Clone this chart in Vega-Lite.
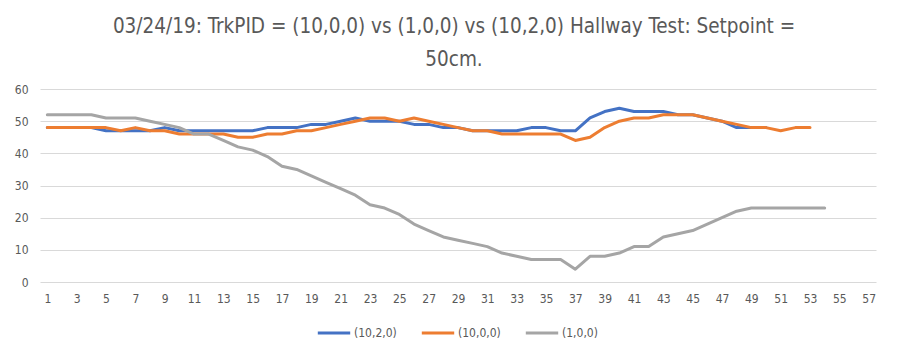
{
  "$schema": "https://vega.github.io/schema/vega-lite/v6.json",
  "autosize": "none",
  "width": 836,
  "height": 193,
  "padding": {"left": 40, "top": 89, "right": 32, "bottom": 78},
  "background": "white",
  "title": {
    "text": ["03/24/19:  TrkPID = (10,0,0) vs (1,0,0) vs (10,2,0) Hallway Test: Setpoint =", "50cm."],
    "font": "DejaVu Sans Condensed, Open Sans",
    "fontSize": 20.5,
    "fontWeight": "normal",
    "color": "#595959",
    "anchor": "middle",
    "frame": "group",
    "dx": -4,
    "offset": 13,
    "lineHeight": 33
  },
  "data": {
    "values": [
      {"x":1,"s":"(10,2,0)","v":48},{"x":2,"s":"(10,2,0)","v":48},{"x":3,"s":"(10,2,0)","v":48},{"x":4,"s":"(10,2,0)","v":48},{"x":5,"s":"(10,2,0)","v":47},{"x":6,"s":"(10,2,0)","v":47},{"x":7,"s":"(10,2,0)","v":47},{"x":8,"s":"(10,2,0)","v":47},{"x":9,"s":"(10,2,0)","v":48},{"x":10,"s":"(10,2,0)","v":47},
      {"x":11,"s":"(10,2,0)","v":47},{"x":12,"s":"(10,2,0)","v":47},{"x":13,"s":"(10,2,0)","v":47},{"x":14,"s":"(10,2,0)","v":47},{"x":15,"s":"(10,2,0)","v":47},{"x":16,"s":"(10,2,0)","v":48},{"x":17,"s":"(10,2,0)","v":48},{"x":18,"s":"(10,2,0)","v":48},{"x":19,"s":"(10,2,0)","v":49},{"x":20,"s":"(10,2,0)","v":49},
      {"x":21,"s":"(10,2,0)","v":50},{"x":22,"s":"(10,2,0)","v":51},{"x":23,"s":"(10,2,0)","v":50},{"x":24,"s":"(10,2,0)","v":50},{"x":25,"s":"(10,2,0)","v":50},{"x":26,"s":"(10,2,0)","v":49},{"x":27,"s":"(10,2,0)","v":49},{"x":28,"s":"(10,2,0)","v":48},{"x":29,"s":"(10,2,0)","v":48},{"x":30,"s":"(10,2,0)","v":47},
      {"x":31,"s":"(10,2,0)","v":47},{"x":32,"s":"(10,2,0)","v":47},{"x":33,"s":"(10,2,0)","v":47},{"x":34,"s":"(10,2,0)","v":48},{"x":35,"s":"(10,2,0)","v":48},{"x":36,"s":"(10,2,0)","v":47},{"x":37,"s":"(10,2,0)","v":47},{"x":38,"s":"(10,2,0)","v":51},{"x":39,"s":"(10,2,0)","v":53},{"x":40,"s":"(10,2,0)","v":54},
      {"x":41,"s":"(10,2,0)","v":53},{"x":42,"s":"(10,2,0)","v":53},{"x":43,"s":"(10,2,0)","v":53},{"x":44,"s":"(10,2,0)","v":52},{"x":45,"s":"(10,2,0)","v":52},{"x":46,"s":"(10,2,0)","v":51},{"x":47,"s":"(10,2,0)","v":50},{"x":48,"s":"(10,2,0)","v":48},{"x":49,"s":"(10,2,0)","v":48},{"x":50,"s":"(10,2,0)","v":48},

      {"x":1,"s":"(10,0,0)","v":48},{"x":2,"s":"(10,0,0)","v":48},{"x":3,"s":"(10,0,0)","v":48},{"x":4,"s":"(10,0,0)","v":48},{"x":5,"s":"(10,0,0)","v":48},{"x":6,"s":"(10,0,0)","v":47},{"x":7,"s":"(10,0,0)","v":48},{"x":8,"s":"(10,0,0)","v":47},{"x":9,"s":"(10,0,0)","v":47},{"x":10,"s":"(10,0,0)","v":46},
      {"x":11,"s":"(10,0,0)","v":46},{"x":12,"s":"(10,0,0)","v":46},{"x":13,"s":"(10,0,0)","v":46},{"x":14,"s":"(10,0,0)","v":45},{"x":15,"s":"(10,0,0)","v":45},{"x":16,"s":"(10,0,0)","v":46},{"x":17,"s":"(10,0,0)","v":46},{"x":18,"s":"(10,0,0)","v":47},{"x":19,"s":"(10,0,0)","v":47},{"x":20,"s":"(10,0,0)","v":48},
      {"x":21,"s":"(10,0,0)","v":49},{"x":22,"s":"(10,0,0)","v":50},{"x":23,"s":"(10,0,0)","v":51},{"x":24,"s":"(10,0,0)","v":51},{"x":25,"s":"(10,0,0)","v":50},{"x":26,"s":"(10,0,0)","v":51},{"x":27,"s":"(10,0,0)","v":50},{"x":28,"s":"(10,0,0)","v":49},{"x":29,"s":"(10,0,0)","v":48},{"x":30,"s":"(10,0,0)","v":47},
      {"x":31,"s":"(10,0,0)","v":47},{"x":32,"s":"(10,0,0)","v":46},{"x":33,"s":"(10,0,0)","v":46},{"x":34,"s":"(10,0,0)","v":46},{"x":35,"s":"(10,0,0)","v":46},{"x":36,"s":"(10,0,0)","v":46},{"x":37,"s":"(10,0,0)","v":44},{"x":38,"s":"(10,0,0)","v":45},{"x":39,"s":"(10,0,0)","v":48},{"x":40,"s":"(10,0,0)","v":50},
      {"x":41,"s":"(10,0,0)","v":51},{"x":42,"s":"(10,0,0)","v":51},{"x":43,"s":"(10,0,0)","v":52},{"x":44,"s":"(10,0,0)","v":52},{"x":45,"s":"(10,0,0)","v":52},{"x":46,"s":"(10,0,0)","v":51},{"x":47,"s":"(10,0,0)","v":50},{"x":48,"s":"(10,0,0)","v":49},{"x":49,"s":"(10,0,0)","v":48},{"x":50,"s":"(10,0,0)","v":48},
      {"x":51,"s":"(10,0,0)","v":47},{"x":52,"s":"(10,0,0)","v":48},{"x":53,"s":"(10,0,0)","v":48},

      {"x":1,"s":"(1,0,0)","v":52},{"x":2,"s":"(1,0,0)","v":52},{"x":3,"s":"(1,0,0)","v":52},{"x":4,"s":"(1,0,0)","v":52},{"x":5,"s":"(1,0,0)","v":51},{"x":6,"s":"(1,0,0)","v":51},{"x":7,"s":"(1,0,0)","v":51},{"x":8,"s":"(1,0,0)","v":50},{"x":9,"s":"(1,0,0)","v":49},{"x":10,"s":"(1,0,0)","v":48},
      {"x":11,"s":"(1,0,0)","v":46},{"x":12,"s":"(1,0,0)","v":46},{"x":13,"s":"(1,0,0)","v":44},{"x":14,"s":"(1,0,0)","v":42},{"x":15,"s":"(1,0,0)","v":41},{"x":16,"s":"(1,0,0)","v":39},{"x":17,"s":"(1,0,0)","v":36},{"x":18,"s":"(1,0,0)","v":35},{"x":19,"s":"(1,0,0)","v":33},{"x":20,"s":"(1,0,0)","v":31},
      {"x":21,"s":"(1,0,0)","v":29},{"x":22,"s":"(1,0,0)","v":27},{"x":23,"s":"(1,0,0)","v":24},{"x":24,"s":"(1,0,0)","v":23},{"x":25,"s":"(1,0,0)","v":21},{"x":26,"s":"(1,0,0)","v":18},{"x":27,"s":"(1,0,0)","v":16},{"x":28,"s":"(1,0,0)","v":14},{"x":29,"s":"(1,0,0)","v":13},{"x":30,"s":"(1,0,0)","v":12},
      {"x":31,"s":"(1,0,0)","v":11},{"x":32,"s":"(1,0,0)","v":9},{"x":33,"s":"(1,0,0)","v":8},{"x":34,"s":"(1,0,0)","v":7},{"x":35,"s":"(1,0,0)","v":7},{"x":36,"s":"(1,0,0)","v":7},{"x":37,"s":"(1,0,0)","v":4},{"x":38,"s":"(1,0,0)","v":8},{"x":39,"s":"(1,0,0)","v":8},{"x":40,"s":"(1,0,0)","v":9},
      {"x":41,"s":"(1,0,0)","v":11},{"x":42,"s":"(1,0,0)","v":11},{"x":43,"s":"(1,0,0)","v":14},{"x":44,"s":"(1,0,0)","v":15},{"x":45,"s":"(1,0,0)","v":16},{"x":46,"s":"(1,0,0)","v":18},{"x":47,"s":"(1,0,0)","v":20},{"x":48,"s":"(1,0,0)","v":22},{"x":49,"s":"(1,0,0)","v":23},{"x":50,"s":"(1,0,0)","v":23},
      {"x":51,"s":"(1,0,0)","v":23},{"x":52,"s":"(1,0,0)","v":23},{"x":53,"s":"(1,0,0)","v":23},{"x":54,"s":"(1,0,0)","v":23}
    ]
  },
  "mark": {"type": "line", "strokeWidth": 3, "strokeJoin": "round", "strokeCap": "round"},
  "encoding": {
    "x": {
      "field": "x", "type": "quantitative",
      "scale": {"domain": [0.5, 57.5], "nice": false, "zero": false},
      "axis": {
        "title": null,
        "values": [1,3,5,7,9,11,13,15,17,19,21,23,25,27,29,31,33,35,37,39,41,43,45,47,49,51,53,55,57],
        "grid": false, "ticks": false, "domain": false,
        "labelFont": "DejaVu Sans Condensed, Open Sans",
        "labelFontSize": 12, "labelColor": "#595959", "labelPadding": 11, "labelFlush": false
      }
    },
    "y": {
      "field": "v", "type": "quantitative",
      "scale": {"domain": [0, 60], "nice": false},
      "axis": {
        "title": null, "values": [0,10,20,30,40,50,60],
        "grid": true, "gridColor": "#D9D9D9", "gridWidth": 1,
        "ticks": false, "domain": false,
        "labelFont": "DejaVu Sans Condensed, Open Sans",
        "labelFontSize": 12, "labelColor": "#595959", "labelPadding": 12
      }
    },
    "color": {
      "field": "s", "type": "nominal",
      "scale": {"domain": ["(10,2,0)", "(10,0,0)", "(1,0,0)"], "range": ["#4472C4", "#ED7D31", "#A5A5A5"]},
      "legend": {
        "title": null, "orient": "none", "direction": "horizontal",
        "legendX": 276, "legendY": 226,
        "symbolType": "stroke", "symbolSize": 1050, "symbolStrokeWidth": 3,
        "labelFont": "DejaVu Sans Condensed, Open Sans",
        "labelFontSize": 12, "labelColor": "#595959", "columnPadding": 18, "labelOffset": 2
      }
    }
  },
  "config": {"view": {"stroke": null}}
}
